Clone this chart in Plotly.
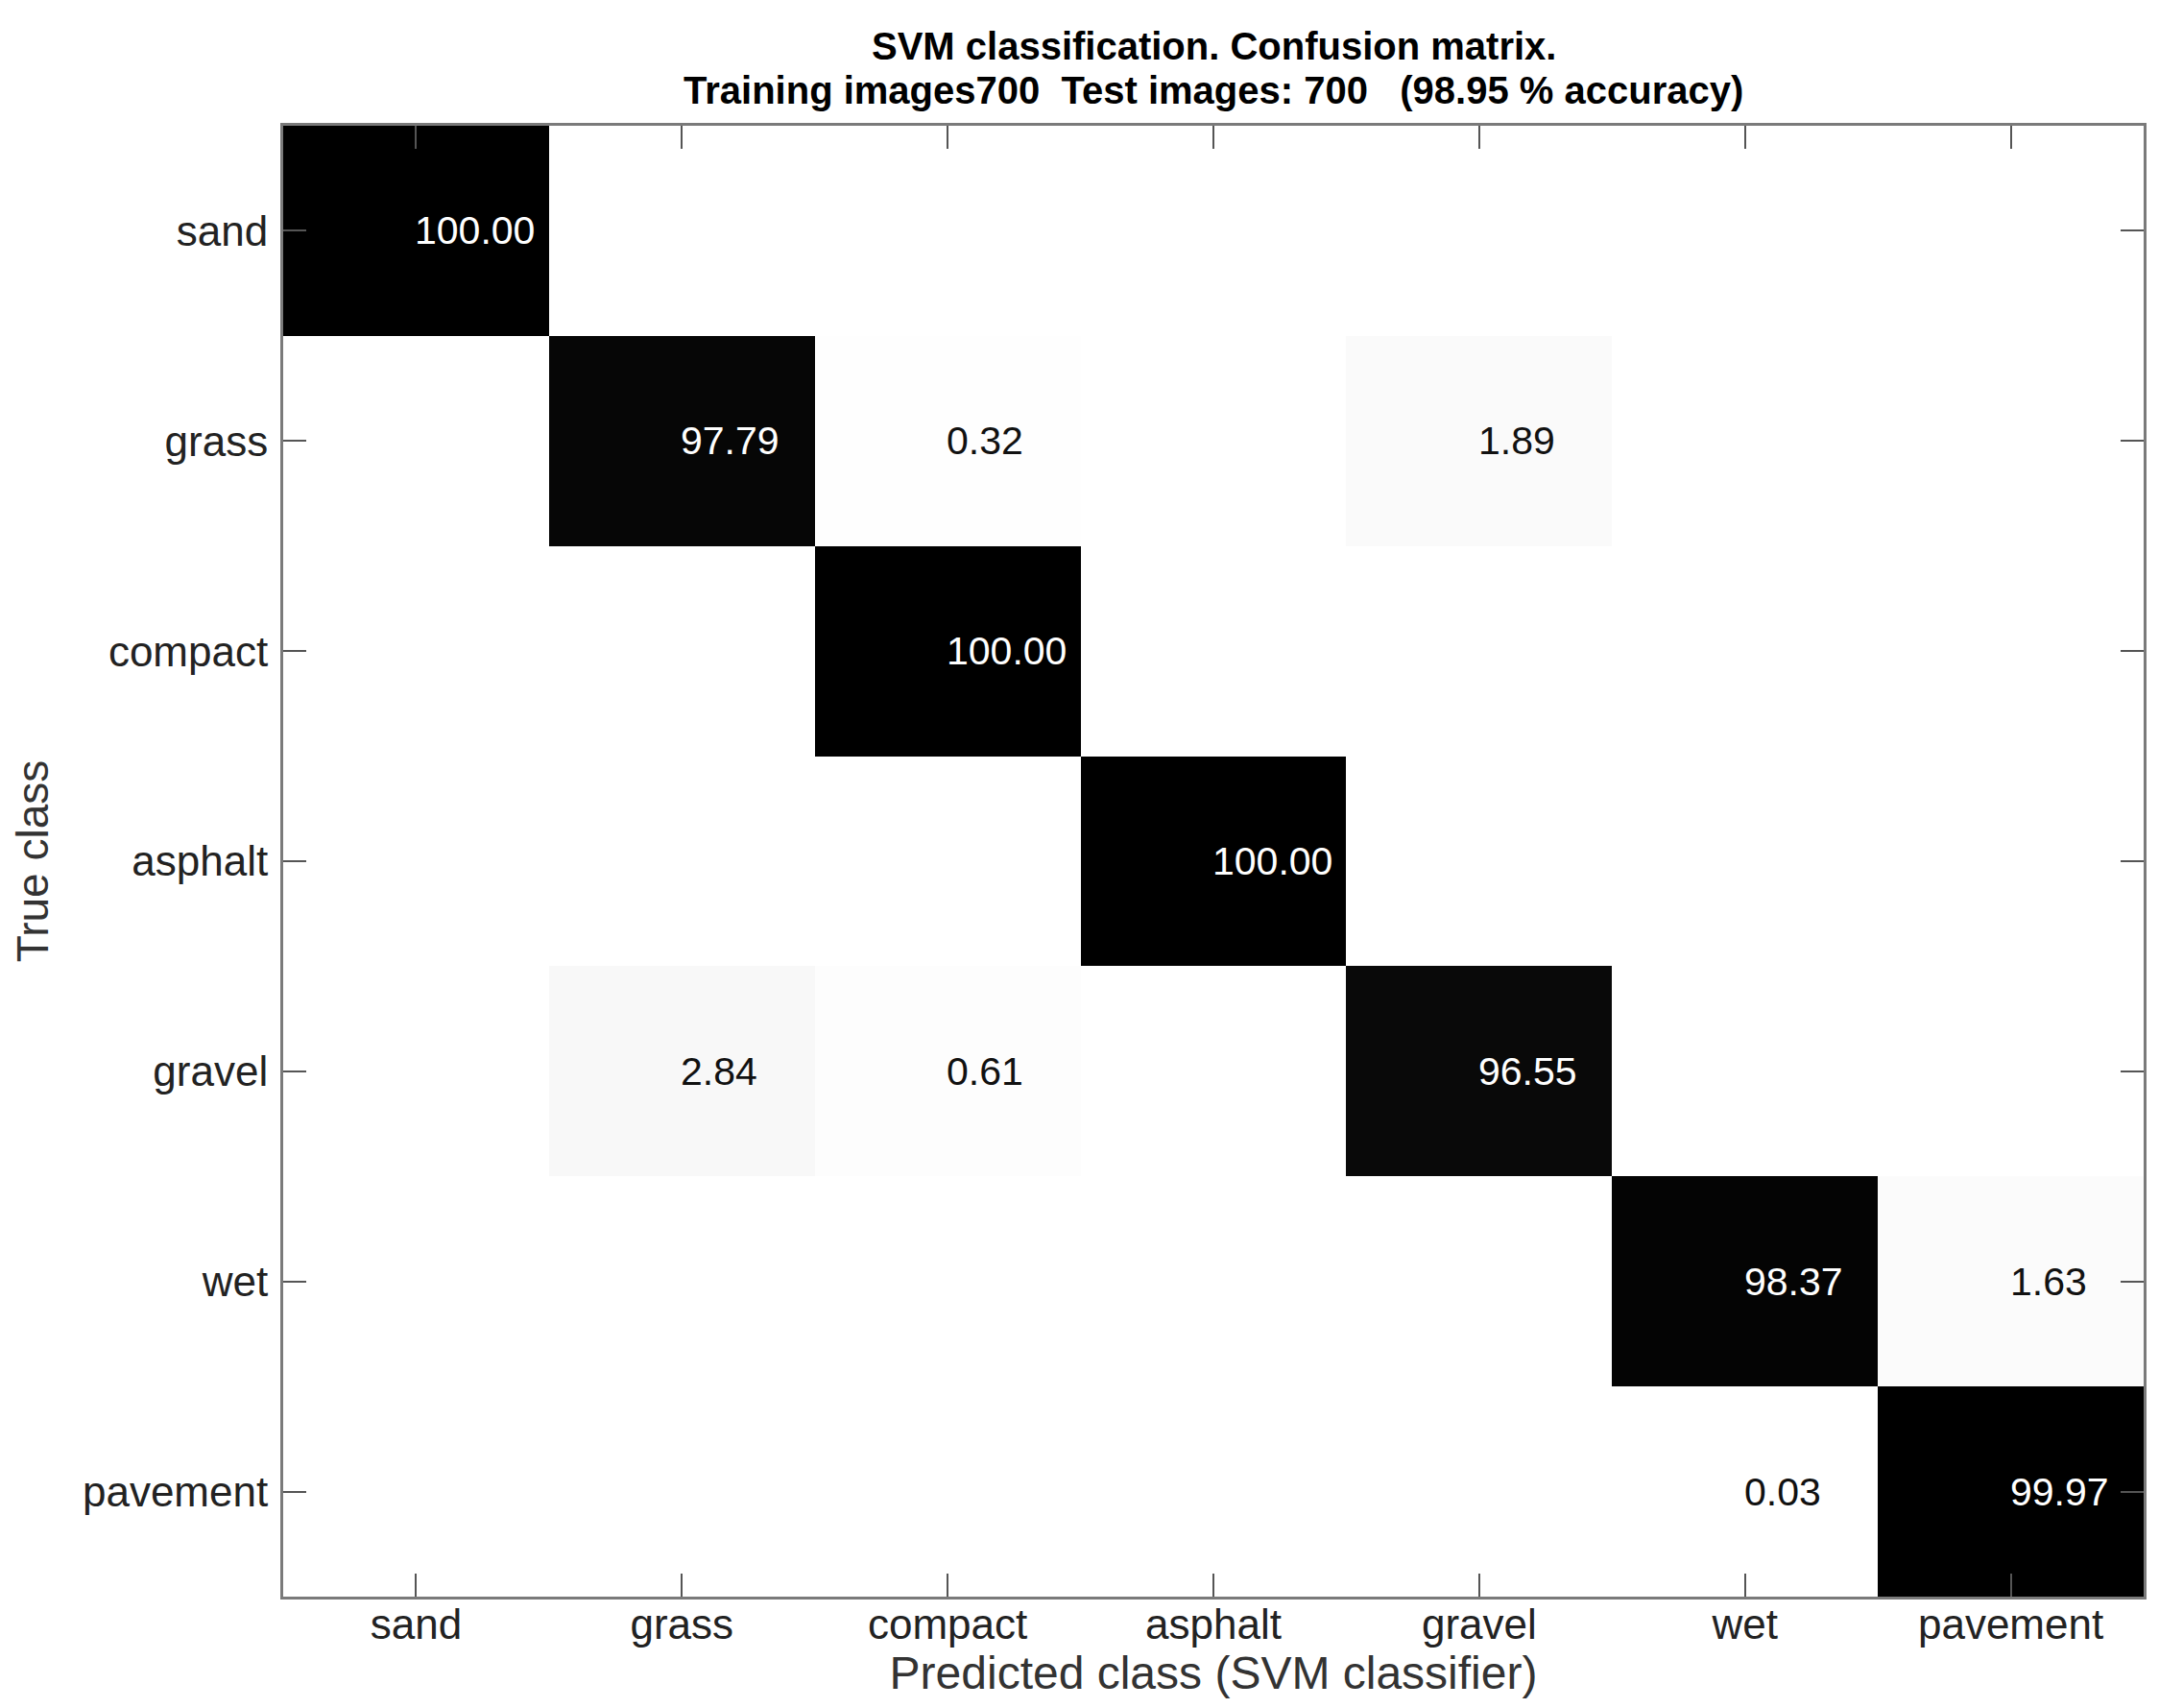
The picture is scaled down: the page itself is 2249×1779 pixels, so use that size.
import plotly.graph_objects as go

classes = ["sand", "grass", "compact", "asphalt", "gravel", "wet", "pavement"]

row_sand = [100.00, 0, 0, 0, 0, 0, 0]
row_grass = [0, 97.79, 0.32, 0, 1.89, 0, 0]
row_compact = [0, 0, 100.00, 0, 0, 0, 0]
row_asphalt = [0, 0, 0, 100.00, 0, 0, 0]
row_gravel = [0, 2.84, 0.61, 0, 96.55, 0, 0]
row_wet = [0, 0, 0, 0, 0, 98.37, 1.63]
row_pavement = [0, 0, 0, 0, 0, 0.03, 99.97]

matrix = [row_sand, row_grass, row_compact, row_asphalt, row_gravel, row_wet, row_pavement]

title_line1 = "SVM classification. Confusion matrix."
title_line2 = "Training images700\u00a0\u00a0Test images:\u00a0700\u00a0\u00a0\u00a0(98.95 % accuracy)"
x_title = "Predicted class (SVM classifier)"
y_title = "True class"

FONT = "Liberation Sans, Arial, sans-serif"

fig = go.Figure(
    go.Heatmap(
        z=matrix,
        x=classes,
        y=classes,
        zmin=0,
        zmax=100,
        colorscale=[[0, "#ffffff"], [1, "#000000"]],
        showscale=False,
        hoverinfo="skip",
    )
)

annotations = []
for i, true_c in enumerate(classes):
    for j, pred_c in enumerate(classes):
        v = matrix[i][j]
        if v == 0:
            continue
        annotations.append(
            dict(
                x=pred_c,
                y=true_c,
                xref="x",
                yref="y",
                text=f"{v:.2f}",
                showarrow=False,
                xanchor="left",
                yanchor="middle",
                xshift=-3,
                font=dict(family=FONT, size=41, color="#ffffff" if v > 50 else "#111111"),
            )
        )

annotations.append(
    dict(
        x=0.5, y=40, xref="paper", yref="paper",
        text=f"<b>{title_line1}</b>",
        showarrow=False, xanchor="center", yanchor="middle",
        font=dict(family=FONT, size=40, color="#000000"),
    )
)
annotations.append(
    dict(
        x=0.5, y=86, xref="paper", yref="paper",
        text=f"<b>{title_line2}</b>",
        showarrow=False, xanchor="center", yanchor="middle",
        font=dict(family=FONT, size=40, color="#000000"),
    )
)

axis_common = dict(
    showline=True,
    linecolor="#7a7a7a",
    linewidth=3,
    mirror="ticks",
    ticks="inside",
    ticklen=24,
    tickwidth=2,
    tickcolor="#555555",
    showgrid=False,
    zeroline=False,
    tickfont=dict(family=FONT, size=44, color="#222222"),
)

fig.update_layout(
    width=2249,
    height=1779,
    margin=dict(l=287, r=24, t=123, b=124),
    paper_bgcolor="white",
    plot_bgcolor="white",
    xaxis=dict(
        **axis_common,
        ticklabelstandoff=-12,
        title=dict(text=x_title, font=dict(family=FONT, size=48, color="#333333"), standoff=0),
    ),
    yaxis=dict(
        **axis_common,
        autorange="reversed",
        ticklabelstandoff=4,
        title=dict(text=y_title, font=dict(family=FONT, size=46, color="#333333"), standoff=24),
    ),
)

# convert title pixel positions (from top of page) into paper coordinates
plot_h = 1779 - 123 - 124
for a in annotations:
    if a.get("yref") == "paper" and a["y"] > 1.5:
        a["y"] = 1 + (123 - a["y"]) / plot_h

fig.update_layout(annotations=annotations)

fig.write_html("out.html")
